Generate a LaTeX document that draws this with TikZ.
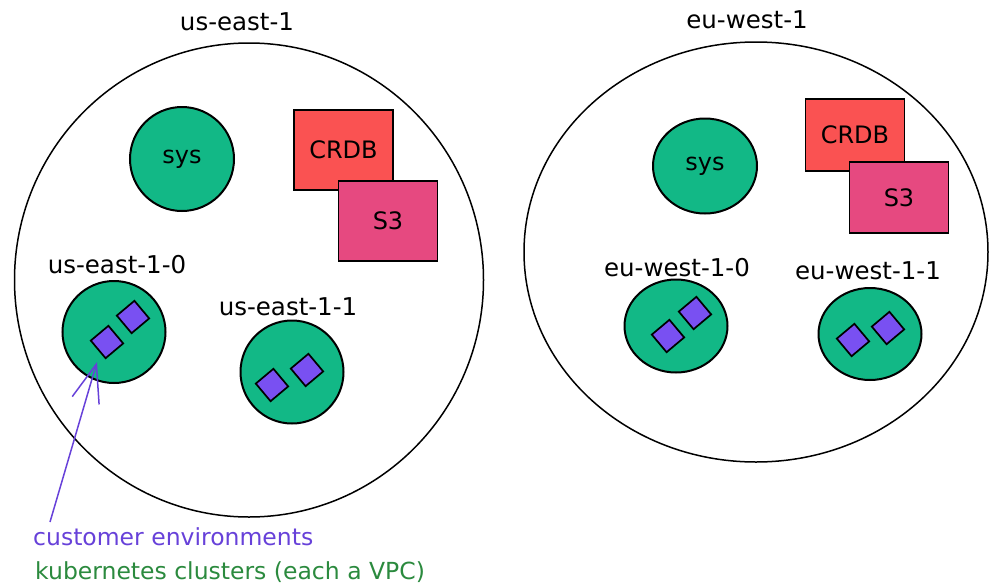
\documentclass[tikz,border=0pt]{standalone}
\usepackage{fontspec}
\setmainfont{DejaVu Sans}
\usetikzlibrary{shapes.geometric,arrows.meta,calc}
\definecolor{kgreen}{HTML}{12B886}
\definecolor{dbred}{HTML}{FA5252}
\definecolor{sthree}{HTML}{E64980}
\definecolor{gem}{HTML}{7950F2}
\definecolor{notepurple}{HTML}{6741D9}
\definecolor{notegreen}{HTML}{2B8A3E}
\tikzset{
  region/.style={draw=black, line width=1.5pt, ellipse, inner sep=0pt},
  cluster/.style={draw=black, line width=2pt, fill=kgreen, ellipse, inner sep=0pt, font=\fontsize{24}{28}\selectfont},
  store/.style={draw=black, line width=1.7pt, rectangle, inner sep=0pt, minimum width=99pt, font=\fontsize{24}{28}\selectfont},
  envbox/.style={draw=black, line width=1.7pt, fill=gem, rectangle, inner sep=0pt, minimum width=23pt, minimum height=23pt},
  lbl/.style={font=\fontsize{24.5}{28}\selectfont, inner sep=0pt},
  note/.style={font=\fontsize{23.5}{28}\selectfont, inner sep=0pt, anchor=west}
}
\begin{document}
\begin{tikzpicture}[x=1pt, y=-1pt]
\useasboundingbox (0,0) rectangle (989,584);
% regions
\node[region, minimum width=469pt, minimum height=474pt] (east) at (249,280) {};
\node[region, minimum width=464pt, minimum height=420pt] (west) at (756,252) {};
\node[lbl] (eastlbl) at (237,22) {us-east-1};
\node[lbl] (westlbl) at (747,20) {eu-west-1};
% us-east-1
\node[cluster, minimum width=104pt, minimum height=104pt] (esys) at (182,159) {sys};
\node[store, fill=dbred, minimum height=80pt] (ecrdb) at (343.5,150) {CRDB};
\node[store, fill=sthree, minimum height=80pt] (es3) at (388,221) {S3};
\node[lbl] (e0lbl) at (117,265) {us-east-1-0};
\node[cluster, minimum width=103pt, minimum height=102pt] (e0) at (114,332) {};
\node[envbox, rotate=40] (e0a) at (107,342) {};
\node[envbox, rotate=40] (e0b) at (133,317) {};
\node[lbl] (e1lbl) at (288,307) {us-east-1-1};
\node[cluster, minimum width=103pt, minimum height=103pt] (e1) at (292,372) {};
\node[envbox, rotate=40] (e1a) at (272,385) {};
\node[envbox, rotate=40] (e1b) at (307,370) {};
% eu-west-1
\node[cluster, minimum width=104pt, minimum height=95pt] (wsys) at (705,166) {sys};
\node[store, fill=dbred, minimum height=72pt] (wcrdb) at (855,135) {CRDB};
\node[store, fill=sthree, minimum height=71pt] (ws3) at (899,197.5) {S3};
\node[lbl] (w0lbl) at (677,268) {eu-west-1-0};
\node[cluster, minimum width=103pt, minimum height=93pt] (w0) at (676,326) {};
\node[envbox, rotate=40] (w0a) at (668,336) {};
\node[envbox, rotate=40] (w0b) at (695,313) {};
\node[lbl] (w1lbl) at (868,271) {eu-west-1-1};
\node[cluster, minimum width=103pt, minimum height=92pt] (w1) at (870,334) {};
\node[envbox, rotate=40] (w1a) at (853,340) {};
\node[envbox, rotate=40] (w1b) at (888,328) {};
% notes
\node[note, text=notepurple] (envnote) at (33,537) {customer environments};
\node[note, text=notegreen] (k8snote) at (35,572) {kubernetes clusters (each a VPC)};
\coordinate (arrstart) at (50,522);
\draw[notepurple, line width=1.5pt, -{Straight Barb[length=38pt, width=28pt, line width=1.5pt]}] (arrstart) -- ($(e0a.center)+(-10,20)$);
\end{tikzpicture}
\end{document}
